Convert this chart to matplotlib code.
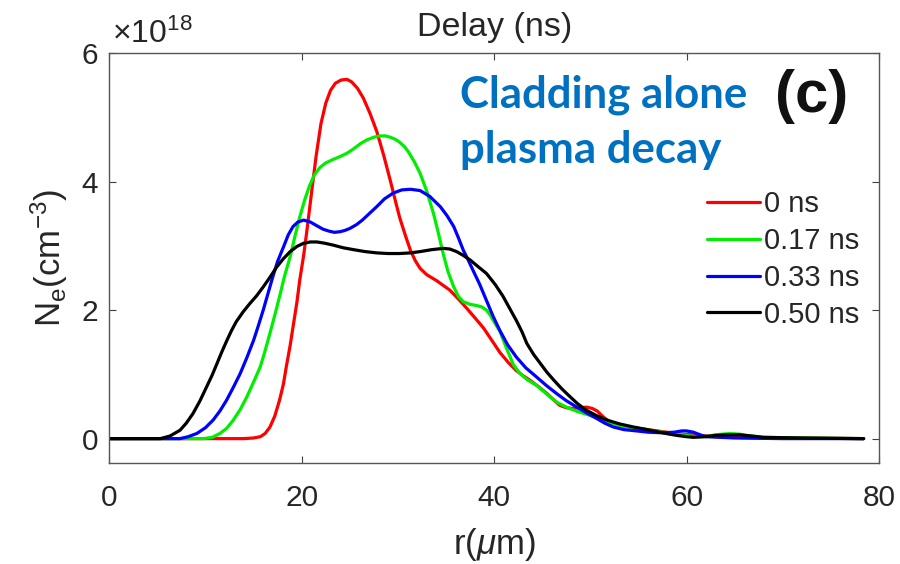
import matplotlib
matplotlib.use("Agg")
import matplotlib.pyplot as plt

# Data (N_e in units of 1e18 cm^-3), r in micrometres
labels = ["0 ns", "0.17 ns", "0.33 ns", "0.50 ns"]
colors = ["#ff0000", "#00ee00", "#0000ff", "#000000"]

r_0 = [0, 10, 14.0, 15.0, 15.7, 16.2, 16.7, 17.2, 17.7, 18.1, 18.4, 18.8, 19.1, 19.5, 19.8,
       20.2, 20.5, 21.0, 21.5, 22.0, 22.5, 23.0, 23.5, 24.1, 24.7, 25.2, 25.8, 26.4, 27.1,
       27.8, 28.5, 29.2, 29.7, 30.2, 30.8, 31.3, 31.8, 32.3, 33.0, 34.0, 35.4, 36.3, 37.2,
       38.0, 38.9, 39.8, 40.6, 41.5, 42.3, 43.0, 43.7, 44.6, 45.5, 46.2, 46.8, 47.5, 48.2,
       48.9, 49.6, 50.2, 50.7, 51.4, 52.0, 53.0, 54.1, 56.0, 57.9, 59.5, 61.4, 63, 65, 70, 78.4]
n_0 = [0, 0, 0, 0.01, 0.03, 0.08, 0.18, 0.35, 0.60, 0.85, 1.12, 1.45, 1.74, 2.12, 2.47,
       2.85, 3.19, 3.80, 4.40, 4.90, 5.22, 5.42, 5.53, 5.58, 5.59, 5.55, 5.45, 5.30, 5.06,
       4.78, 4.42, 4.02, 3.72, 3.43, 3.15, 2.93, 2.77, 2.65, 2.55, 2.46, 2.31, 2.17, 2.02,
       1.88, 1.72, 1.52, 1.34, 1.18, 1.06, 0.98, 0.91, 0.81, 0.70, 0.60, 0.52, 0.48, 0.47,
       0.48, 0.49, 0.47, 0.43, 0.33, 0.26, 0.21, 0.18, 0.14, 0.10, 0.07, 0.05, 0.03, 0.02, 0.01, 0]

r_17 = [0, 9.8, 10.7, 11.5, 12.2, 12.9, 13.6, 14.3, 15.0, 15.7, 16.2, 16.7, 17.2, 17.7, 18.2,
        18.8, 19.3, 19.8, 20.3, 20.8, 21.3, 21.9, 22.5, 23.2, 24.0, 24.7, 25.4, 26.1, 26.8,
        27.5, 28.1, 28.7, 29.2, 29.7, 30.2, 30.7, 31.1, 31.7, 32.3, 33.0, 33.7, 34.2, 34.7,
        35.2, 35.8, 36.3, 36.8, 37.5, 38.2, 38.7, 39.2, 39.6, 39.9, 40.6, 41.3, 42.0, 42.7,
        43.5, 44.4, 45.1, 45.8, 46.6, 47.5, 48.7, 50.0, 51.2, 52.4, 53.6, 54.8, 57, 59, 61,
        62.0, 63.0, 64.5, 65.5, 66.2, 68, 72, 78.4]
n_17 = [0, 0, 0.02, 0.08, 0.16, 0.29, 0.45, 0.65, 0.88, 1.12, 1.37, 1.64, 1.92, 2.21, 2.52,
        2.83, 3.15, 3.45, 3.71, 3.93, 4.10, 4.22, 4.29, 4.34, 4.39, 4.44, 4.51, 4.59, 4.65,
        4.69, 4.71, 4.71, 4.69, 4.66, 4.61, 4.54, 4.46, 4.31, 4.13, 3.85, 3.50, 3.20, 2.88,
        2.60, 2.36, 2.21, 2.13, 2.09, 2.07, 2.05, 2.00, 1.92, 1.84, 1.67, 1.40, 1.15, 1.01,
        0.91, 0.83, 0.74, 0.65, 0.56, 0.49, 0.42, 0.36, 0.29, 0.23, 0.19, 0.16, 0.11, 0.07, 0.03,
        0.03, 0.06, 0.08, 0.07, 0.05, 0.02, 0.01, 0]

r_33 = [0, 7.35, 8.2, 9.1, 10.0, 10.8, 11.5, 12.2, 12.9, 13.6, 14.3, 15.0, 15.5, 16.0, 16.5,
        17.0, 17.5, 18.1, 18.6, 19.1, 19.6, 20.2, 20.9, 21.6, 22.2, 22.8, 23.4, 24.0, 24.5,
        25.0, 25.7, 26.3, 26.8, 27.3, 27.8, 28.6, 29.5, 30.4, 31.3, 32.3, 33.3, 34.4, 35.1,
        35.8, 36.3, 36.8, 37.3, 37.8, 38.5, 39.2, 39.9, 40.6, 41.4, 42.3, 43.3, 44.4, 45.4,
        46.5, 47.5, 48.6, 49.6, 50.7, 51.5, 52.4, 53.5, 54.8, 56.0, 57.5, 58.7, 59.5, 60.0,
        60.7, 61.4, 62.0, 65, 70, 78.4]
n_33 = [0, 0, 0.03, 0.08, 0.17, 0.29, 0.43, 0.60, 0.80, 1.01, 1.26, 1.53, 1.76, 2.00, 2.26,
        2.52, 2.76, 2.98, 3.17, 3.30, 3.37, 3.40, 3.37, 3.31, 3.26, 3.23, 3.21, 3.22, 3.24,
        3.27, 3.33, 3.40, 3.47, 3.54, 3.61, 3.73, 3.82, 3.87, 3.88, 3.86, 3.77, 3.61, 3.47,
        3.30, 3.12, 2.93, 2.78, 2.62, 2.40, 2.15, 1.90, 1.68, 1.46, 1.27, 1.10, 0.96, 0.83,
        0.70, 0.59, 0.49, 0.40, 0.31, 0.24, 0.18, 0.14, 0.12, 0.10, 0.09, 0.10, 0.12, 0.12,
        0.10, 0.06, 0.03, 0.01, 0, 0]

r_50 = [0, 5.3, 6.3, 7.35, 8.0, 8.7, 9.4, 10.1, 10.7, 11.2, 11.7, 12.2, 12.7, 13.2, 13.9,
        14.6, 15.3, 16.0, 16.7, 17.4, 18.1, 18.8, 19.5, 20.2, 20.9, 21.6, 22.4, 23.3, 24.3,
        25.4, 26.6, 27.8, 29.0, 30.2, 31.3, 32.3, 33.5, 34.7, 35.4, 36.1, 36.8, 37.5, 38.3,
        39.2, 40.1, 40.9, 41.6, 42.3, 42.9, 43.4, 44.1, 44.8, 45.5, 46.2, 47.0, 47.9, 48.7,
        49.6, 50.6, 51.7, 53.0, 54.5, 55.9, 57.2, 58.2, 59.0, 60.0, 60.7, 61.8, 63.0, 64.3,
        65.5, 66.8, 68, 72, 78.4]
n_50 = [0, 0, 0.04, 0.13, 0.24, 0.39, 0.58, 0.80, 0.99, 1.17, 1.35, 1.52, 1.68, 1.82, 1.97,
        2.10, 2.22, 2.36, 2.51, 2.67, 2.80, 2.91, 2.99, 3.04, 3.06, 3.06, 3.04, 3.01, 2.97,
        2.94, 2.91, 2.89, 2.88, 2.88, 2.89, 2.91, 2.94, 2.96, 2.95, 2.91, 2.85, 2.78, 2.68,
        2.57, 2.40, 2.22, 2.03, 1.84, 1.66, 1.48, 1.31, 1.17, 1.03, 0.91, 0.78, 0.65, 0.54,
        0.44, 0.36, 0.29, 0.23, 0.18, 0.14, 0.10, 0.07, 0.05, 0.03, 0.02, 0.03, 0.05, 0.06,
        0.06, 0.04, 0.02, 0.01, 0]

series = [(r_0, n_0), (r_17, n_17), (r_33, n_33), (r_50, n_50)]

xticks = [0, 20, 40, 60, 80]
yticks = [0, 2, 4, 6]

plt.rcParams['font.family'] = ['Liberation Sans', 'DejaVu Sans']
plt.rcParams['mathtext.fontset'] = 'custom'
plt.rcParams['mathtext.rm'] = 'Liberation Sans'
plt.rcParams['mathtext.it'] = 'Liberation Sans:italic'

fig = plt.figure(figsize=(9, 5.64), dpi=100)
ax = fig.add_axes([0.1214, 0.179, 0.8553, 0.727])

for (r, n), c, lab in zip(series, colors, labels):
    ax.plot(r, n, color=c, lw=2.3, label=lab, solid_capstyle='round',
            solid_joinstyle='round')

ax.set_xlim(0, 80)
ax.set_ylim(-0.38, 6)
ax.set_xticks(xticks)
ax.set_yticks(yticks)
tc = '#262626'
ax.tick_params(direction='in', length=5, width=0.8, top=True, right=True,
               labelsize=21.5, colors='#404040', labelcolor=tc)
ax.tick_params(axis='x', pad=15)
ax.tick_params(axis='y', pad=8)
for s in ax.spines.values():
    s.set_color('#555555')
    s.set_linewidth(1.0)

ax.set_xlabel(r'r($\mu$m)', fontsize=25, color=tc, labelpad=10)
ax.set_ylabel(r'N$_\mathrm{e}$(cm$^{-3}$)', fontsize=25, color=tc, labelpad=8)
ax.set_title('Delay (ns)', fontsize=24.5, color=tc, pad=12)

fig.text(112 / 900, 1 - 43 / 564, r'$\times$10$^{18}$', fontsize=23, color=tc,
         ha='left', va='baseline')

ax.text(0.455, 0.948, 'Cladding alone\nplasma decay', transform=ax.transAxes,
        fontsize=31.5, fontweight='bold', color='#0070c0', family='Lato',
        ha='left', va='top', linespacing=1.45)
ax.text(0.96, 0.96, '(c)', transform=ax.transAxes, fontsize=43, fontweight='bold',
        color='#111111', ha='right', va='top')

leg = ax.legend(loc='upper left', bbox_to_anchor=(0.7766, 0.665), frameon=False,
                fontsize=21, handlelength=1.82, handletextpad=0.14, labelspacing=0.30,
                borderpad=0, borderaxespad=0)
for t in leg.get_texts():
    t.set_color(tc)

fig.savefig('out.png', dpi=100)
